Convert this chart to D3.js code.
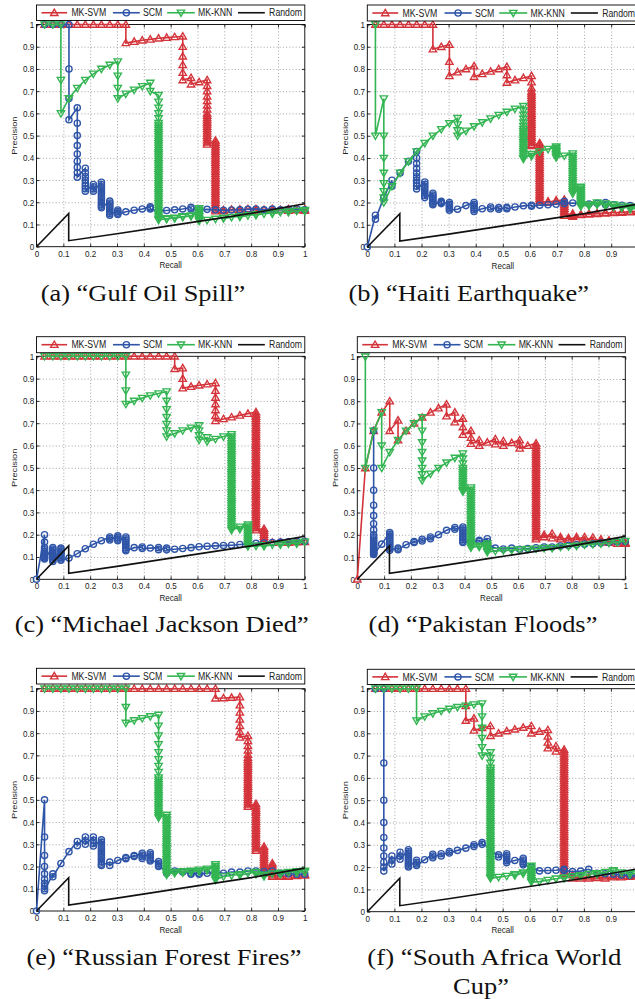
<!DOCTYPE html>
<html><head><meta charset="utf-8">
<script src="https://cdn.jsdelivr.net/npm/d3@7"></script>
<style>body{margin:0;background:#fff}svg{display:block}</style>
</head><body>
<svg id="c" width="635" height="999"></svg>
<script>
// ---------------- DATA ----------------
const seriesNames = ["MK-SVM", "SCM", "MK-KNN", "Random"];
const tickValues = [0, 0.1, 0.2, 0.3, 0.4, 0.5, 0.6, 0.7, 0.8, 0.9, 1];
const tickLabels = ["0", "0.1", "0.2", "0.3", "0.4", "0.5", "0.6", "0.7", "0.8", "0.9", "1"];
const axisLabels = ["Recall", "Precision"];
const captions = [
  ["(a) “Gulf Oil Spill”"],
  ["(b) “Haiti Earthquake”"],
  ["(c) “Michael Jackson Died”"],
  ["(d) “Pakistan Floods”"],
  ["(e) “Russian Forest Fires”"],
  ["(f) “South Africa World", "Cup”"]
];
// each group: [recall, precision1, precision2, ...] (points in curve order)
const randomLine = [[0,0],[0.12,0.15],[0.12,0.027],[0.3,0.058],[0.5,0.095],[0.8,0.15],[1,0.193]];

const svmA = [[0.03,1],[0.061,1],[0.091,1],[0.121,1],[0.152,1],[0.182,1],[0.212,1],[0.242,1],[0.273,1],[0.303,1],
 [0.333,1,0.917],[0.364,0.923],[0.394,0.929],[0.424,0.933],[0.455,0.938],[0.485,0.941],[0.515,0.944],
 [0.545,0.947,0.9,0.857,0.818,0.783,0.75],[0.576,0.76,0.731],[0.606,0.741],
 [0.636,0.75,0.724,0.7,0.677,0.656,0.636,0.618,0.6,0.59,0.58,0.57,0.56,0.55,0.54,0.53,0.52,0.51,0.5,0.49,0.48,0.47,0.46],
 [0.667,0.478,0.468,0.458,0.448,0.438,0.428,0.418,0.408,0.398,0.388,0.378,0.368,0.358,0.348,0.338,0.328,0.318,0.308,0.298,0.288,0.278,0.268,0.258,0.248,0.238,0.228,0.218,0.208,0.198,0.188,0.178,0.168,0.16],
 [0.697,0.165,0.16],[0.727,0.167],[0.758,0.168,0.162],[0.788,0.17],[0.818,0.17,0.163],[0.848,0.166],[0.879,0.17,0.163],[0.909,0.166],[0.939,0.17,0.162],[0.97,0.165],[1,0.168,0.162]];
const scmA = [[0.03,1],[0.061,1],[0.091,1],[0.121,1,0.8,0.667,0.571],
 [0.152,0.625,0.556,0.5,0.455,0.417,0.385,0.357,0.333,0.313],
 [0.182,0.353,0.333,0.316,0.3,0.286,0.273,0.261,0.25],
 [0.212,0.28,0.27,0.26,0.25],
 [0.242,0.29,0.28,0.27,0.26,0.25,0.24,0.23,0.22,0.21,0.2,0.19,0.182,0.175],
 [0.273,0.205,0.197,0.189,0.181,0.173,0.165,0.157,0.149,0.142],[0.303,0.165,0.158,0.151,0.145],
 [0.333,0.157],[0.364,0.164],[0.394,0.17],[0.424,0.18,0.175,0.17],[0.455,0.16],[0.485,0.163],[0.515,0.166],[0.545,0.17],[0.576,0.177,0.17],[0.606,0.165],[0.636,0.168],[0.667,0.166],[0.697,0.164],[0.727,0.165],[0.758,0.166],[0.788,0.168],[0.818,0.17],[0.848,0.166],[0.879,0.169],[0.909,0.166],[0.939,0.168],[0.97,0.17],[1,0.166]];
const knnA = [[0.03,1],[0.061,1],[0.091,1,0.75,0.6],[0.121,0.667],[0.152,0.714],[0.182,0.75],[0.212,0.778],[0.242,0.8],[0.273,0.818],
 [0.303,0.833,0.769,0.714,0.667],[0.333,0.688],[0.364,0.706],[0.394,0.722],[0.424,0.737,0.7],
 [0.455,0.682,0.652,0.625,0.6,0.577,0.556,0.545,0.535,0.525,0.515,0.505,0.495,0.485,0.475,0.465,0.455,0.445,0.435,0.425,0.415,0.405,0.395,0.385,0.375,0.365,0.355,0.345,0.335,0.325,0.315,0.305,0.295,0.285,0.275,0.265,0.255,0.245,0.235,0.225,0.215,0.205,0.195,0.185,0.175,0.165,0.155,0.145,0.135,0.125,0.12],
 [0.485,0.127,0.124],[0.515,0.13,0.127],[0.545,0.136,0.133],[0.576,0.14,0.137],[0.606,0.172,0.165,0.158,0.151,0.144,0.137,0.13,0.123,0.116],[0.636,0.12],[0.667,0.125],[0.697,0.13,0.127],[0.727,0.133],[0.758,0.137,0.134],[0.788,0.141],[0.818,0.145,0.142],[0.848,0.148],[0.879,0.152,0.149],[0.909,0.155],[0.939,0.158,0.155],[0.97,0.161],[1,0.165,0.16]];

const svmB = [[0.03,1],[0.061,1],[0.091,1],[0.121,1],[0.152,1],[0.182,1],[0.212,1],[0.242,1,0.889],[0.273,0.9],[0.303,0.909,0.833,0.769],[0.333,0.786],[0.364,0.8],[0.394,0.813,0.765],[0.424,0.778],[0.455,0.789],[0.485,0.8],[0.515,0.81,0.773,0.739],[0.545,0.75],[0.576,0.76],
 [0.606,0.769,0.741,0.714,0.7,0.69,0.68,0.67,0.66,0.65,0.64,0.63,0.62,0.61,0.6,0.59,0.58,0.57,0.56,0.55,0.54,0.53,0.52,0.51,0.5,0.49,0.48,0.47,0.46,0.455],
 [0.636,0.467,0.457,0.447,0.437,0.427,0.417,0.407,0.397,0.387,0.377,0.367,0.357,0.347,0.337,0.327,0.317,0.307,0.297,0.287,0.277,0.267,0.257,0.247,0.237,0.227,0.217,0.207,0.2],
 [0.667,0.205,0.2],[0.697,0.21,0.205],[0.727,0.213,0.205,0.197,0.189,0.181,0.173,0.165,0.157,0.149,0.141],[0.758,0.15,0.145,0.14,0.137],[0.788,0.147,0.144],[0.818,0.15,0.147],[0.848,0.152,0.149],[0.879,0.154,0.151],[0.909,0.156,0.153],[0.939,0.158,0.155],[0.97,0.16,0.157],[1,0.162,0.159]];
const scmB = [[0,0],[0.03,0.143,0.125],[0.061,0.222],[0.091,0.3,0.273],[0.121,0.333],[0.152,0.385],
 [0.182,0.429,0.4,0.375,0.353,0.333,0.316,0.3,0.286,0.273,0.261],
 [0.212,0.292,0.282,0.272,0.262,0.252,0.242,0.232,0.222],
 [0.242,0.242,0.234,0.226,0.218,0.21,0.202,0.195,0.19],
 [0.273,0.205,0.2,0.195],[0.303,0.2,0.193,0.186,0.179,0.172,0.165],
 [0.333,0.17],[0.364,0.186],[0.394,0.2,0.192,0.184,0.176,0.168,0.16],[0.424,0.172],[0.455,0.18,0.172],[0.485,0.177,0.17],[0.515,0.178,0.172],[0.545,0.18],[0.576,0.185],[0.606,0.188,0.183],[0.636,0.188],[0.667,0.19],[0.697,0.192],[0.727,0.205,0.195],[0.758,0.198],[0.788,0.195],[0.818,0.193],[0.848,0.197],[0.879,0.2,0.19],[0.909,0.19],[0.939,0.188],[0.97,0.186],[1,0.185]];
const knnB = [[0.03,1,0.5],[0.061,0.667,0.5,0.4,0.333,0.286,0.25,0.222,0.2],[0.091,0.273],[0.121,0.333],[0.152,0.385],[0.182,0.429],[0.212,0.467],[0.242,0.5],[0.273,0.529],[0.303,0.556],[0.333,0.579,0.55,0.524,0.5],[0.364,0.522],[0.394,0.542],[0.424,0.56],[0.455,0.577],[0.485,0.593],[0.515,0.607],[0.545,0.621],
 [0.576,0.633,0.613,0.594,0.576,0.559,0.543,0.53,0.52,0.51,0.5,0.49,0.48,0.47,0.46,0.45,0.44,0.43,0.42,0.41,0.4,0.396],
 [0.606,0.417,0.408],[0.636,0.429],[0.667,0.44],[0.697,0.451,0.444,0.437,0.43,0.423,0.416,0.409,0.402],[0.727,0.41],
 [0.758,0.42,0.41,0.4,0.39,0.38,0.37,0.36,0.35,0.34,0.33,0.32,0.31,0.3,0.29,0.28,0.27,0.26,0.25,0.24],
 [0.788,0.27,0.262,0.254,0.246,0.238,0.23,0.222,0.214,0.206,0.198,0.19,0.182],[0.818,0.19,0.185],[0.848,0.2,0.19],[0.879,0.195,0.185],[0.909,0.19,0.18],[0.939,0.185,0.175],[0.97,0.18,0.17],[1,0.175,0.165]];

const svmC = [[0.03,1],[0.061,1],[0.091,1],[0.121,1],[0.152,1],[0.182,1],[0.212,1],[0.242,1],[0.273,1],[0.303,1],[0.333,1],[0.364,1],[0.394,1],[0.424,1],[0.455,1],[0.485,1],
 [0.515,1,0.944],[0.545,0.947,0.9,0.857],[0.576,0.864],[0.606,0.87],[0.636,0.875],[0.667,0.88,0.846,0.815,0.786,0.759,0.733,0.71],[0.697,0.719],[0.727,0.727],[0.758,0.735],[0.788,0.743],
 [0.818,0.75,0.74,0.73,0.72,0.71,0.7,0.69,0.68,0.67,0.66,0.65,0.64,0.63,0.62,0.61,0.6,0.59,0.58,0.57,0.56,0.55,0.54,0.53,0.52,0.51,0.5,0.49,0.48,0.47,0.46,0.45,0.44,0.43,0.42,0.41,0.4,0.39,0.38,0.37,0.36,0.35,0.34,0.33,0.32,0.31,0.3,0.29,0.28,0.27,0.26,0.25,0.24,0.23,0.22],
 [0.848,0.227,0.218,0.209,0.2,0.191,0.182,0.173,0.165],[0.879,0.165],[0.909,0.166],[0.939,0.165],[0.97,0.167],[1,0.168]];
const scmC = [[0,0],[0.03,0.2,0.167,0.143,0.133,0.125,0.118,0.111,0.105,0.1,0.095,0.091],[0.061,0.143,0.136,0.129,0.122,0.115,0.108,0.101,0.094,0.087,0.08],[0.091,0.14,0.133,0.126,0.119,0.112,0.105,0.098,0.091,0.085],
 [0.121,0.095],[0.152,0.115],[0.182,0.137],[0.212,0.157],[0.242,0.173],[0.273,0.19,0.183,0.176],[0.303,0.195,0.187,0.18,0.173],
 [0.333,0.19,0.182,0.174,0.166,0.158,0.15,0.142,0.134,0.128],[0.364,0.142],[0.394,0.145,0.138],[0.424,0.14],[0.455,0.142,0.133],[0.485,0.14,0.132],[0.515,0.135],[0.545,0.138],[0.576,0.142],[0.606,0.146],[0.636,0.148],[0.667,0.15],[0.697,0.152],[0.727,0.153],[0.758,0.156],[0.788,0.158],[0.818,0.161],[0.848,0.163],[0.879,0.165],[0.909,0.167],[0.939,0.168],[0.97,0.17],[1,0.17]];
const knnC = [[0.03,1],[0.061,1],[0.091,1],[0.121,1],[0.152,1],[0.182,1],[0.212,1],[0.242,1],[0.273,1],[0.303,1],[0.333,1,0.917,0.846,0.786],[0.364,0.8],[0.394,0.813],[0.424,0.824],[0.455,0.833],
 [0.485,0.842,0.8,0.762,0.727,0.696,0.667,0.64],[0.515,0.654],[0.545,0.667],[0.576,0.679],[0.606,0.69,0.667,0.645,0.625],[0.636,0.636,0.618],[0.667,0.629],[0.697,0.64],
 [0.727,0.65,0.64,0.63,0.62,0.61,0.6,0.59,0.58,0.57,0.56,0.55,0.54,0.53,0.52,0.51,0.5,0.49,0.48,0.47,0.46,0.45,0.44,0.43,0.42,0.41,0.4,0.39,0.38,0.37,0.36,0.35,0.34,0.33,0.32,0.31,0.3,0.29,0.28,0.27,0.26,0.25,0.24,0.23,0.22],
 [0.758,0.235,0.225],[0.788,0.245,0.236,0.227,0.218,0.209,0.2,0.191,0.182,0.173,0.164,0.155,0.147],[0.818,0.15],[0.848,0.152,0.148],[0.879,0.155],[0.909,0.158,0.155],[0.939,0.16],[0.97,0.163,0.16],[1,0.168]];

const svmD = [[0,0],[0.03,0.5],[0.061,0.667],[0.091,0.75],[0.121,0.8,0.667],[0.152,0.714,0.625],[0.182,0.667],[0.212,0.7],[0.242,0.727],[0.273,0.75],[0.303,0.769],[0.333,0.786,0.733],[0.364,0.75,0.706],[0.394,0.722,0.684,0.65],[0.424,0.667,0.636,0.609],[0.455,0.625,0.6],[0.485,0.615],[0.515,0.63,0.607],[0.545,0.621,0.6],[0.576,0.613],[0.606,0.625,0.606,0.588],[0.636,0.6],
 [0.667,0.611,0.6,0.59,0.58,0.57,0.56,0.55,0.54,0.53,0.52,0.51,0.5,0.49,0.48,0.47,0.46,0.45,0.44,0.43,0.42,0.41,0.4,0.39,0.38,0.37,0.36,0.35,0.34,0.33,0.32,0.31,0.3,0.29,0.28,0.27,0.26,0.25,0.24,0.23,0.22,0.21,0.2,0.19,0.18],
 [0.697,0.2,0.19],[0.727,0.205,0.185],[0.758,0.19,0.18],[0.788,0.185,0.178],[0.818,0.19,0.18],[0.848,0.19,0.175],[0.879,0.188,0.172],[0.909,0.18,0.17],[0.939,0.175,0.165],[0.97,0.17,0.16],[1,0.165,0.16]];
const scmD = [[0.061,0.667,0.5,0.4,0.333,0.286,0.25,0.222,0.2,0.19,0.182,0.174,0.167,0.16,0.154,0.148,0.143,0.138,0.133,0.129,0.125,0.121,0.118,0.114,0.111],[0.091,0.158],[0.121,0.21,0.202,0.194,0.186,0.178,0.17,0.162,0.154,0.146,0.138,0.13],[0.152,0.14,0.133],[0.182,0.155],[0.212,0.17,0.165],[0.242,0.18,0.172],[0.273,0.19,0.182],[0.303,0.2],[0.333,0.22],[0.364,0.233,0.225],
 [0.394,0.235,0.227,0.219,0.211,0.203,0.195,0.187,0.179,0.171,0.165],[0.424,0.17],[0.455,0.175,0.17],[0.485,0.182,0.17,0.16],[0.515,0.14],[0.545,0.136],[0.576,0.14],[0.606,0.135],[0.636,0.138],[0.667,0.142],[0.697,0.145],[0.727,0.145],[0.758,0.15],[0.788,0.152],[0.818,0.155],[0.848,0.158],[0.879,0.16],[0.909,0.163],[0.939,0.165],[0.97,0.168],[1,0.17]];
const knnD = [[0.03,1,0.5],[0.061,0.667],[0.091,0.75,0.6,0.5],[0.121,0.571],[0.152,0.625],[0.182,0.667],[0.212,0.7],[0.242,0.727,0.667,0.615,0.571,0.533,0.5,0.471,0.444],[0.273,0.474],[0.303,0.5],[0.333,0.524],[0.364,0.545],
 [0.394,0.565,0.542,0.52,0.5,0.49,0.48,0.47,0.46,0.45,0.44,0.43,0.42,0.41,0.4,0.394],
 [0.424,0.412,0.402,0.392,0.382,0.372,0.362,0.352,0.342,0.332,0.322,0.312,0.302,0.292,0.282,0.272,0.262,0.252,0.242,0.232,0.222,0.212,0.202,0.192,0.182,0.172,0.162,0.152,0.142],
 [0.455,0.15,0.145],[0.485,0.16,0.152,0.144,0.136,0.128,0.122],[0.515,0.127],[0.545,0.13],[0.576,0.131],[0.606,0.133],[0.636,0.135],[0.667,0.137],[0.697,0.14],[0.727,0.14],[0.758,0.145],[0.788,0.148],[0.818,0.15],[0.848,0.155],[0.879,0.158],[0.909,0.16],[0.939,0.163],[0.97,0.167],[1,0.172]];

const svmE = [[0.03,1],[0.061,1],[0.091,1],[0.121,1],[0.152,1],[0.182,1],[0.212,1],[0.242,1],[0.273,1],[0.303,1],[0.333,1],[0.364,1],[0.394,1],[0.424,1],[0.455,1],[0.485,1],[0.515,1],[0.545,1],[0.576,1],[0.606,1],[0.636,1],
 [0.667,1,0.957],[0.697,0.958],[0.727,0.96],[0.758,0.962,0.926,0.893,0.862,0.833,0.806,0.781],
 [0.788,0.788,0.765,0.743,0.722,0.703,0.69,0.68,0.67,0.66,0.65,0.64,0.63,0.62,0.61,0.6,0.59,0.58,0.57,0.56,0.55,0.54,0.53,0.52,0.51,0.5,0.49,0.48,0.47],
 [0.818,0.482,0.472,0.462,0.452,0.442,0.432,0.422,0.412,0.402,0.392,0.382,0.372,0.362,0.352,0.342,0.332,0.322,0.312,0.302,0.292,0.282,0.272],
 [0.848,0.29,0.28,0.27,0.26,0.25,0.24,0.23,0.22,0.21,0.2,0.19,0.18,0.17],[0.879,0.215,0.206,0.197,0.188,0.179,0.17,0.161,0.155],[0.909,0.16,0.155],[0.939,0.16,0.155],[0.97,0.163,0.158],[1,0.165,0.16]];
const scmE = [[0,0],[0.03,0.5,0.333,0.25,0.2,0.167,0.143,0.125,0.111,0.1,0.091],[0.061,0.167,0.154],[0.091,0.214],[0.121,0.267],[0.152,0.313,0.294],[0.182,0.333,0.316,0.3],[0.212,0.333,0.318,0.304,0.292],
 [0.242,0.32,0.31,0.3,0.29,0.28,0.27,0.26,0.25,0.24,0.23,0.22,0.21,0.205],[0.273,0.22,0.205],[0.303,0.227],[0.333,0.24,0.235],[0.364,0.25,0.245],[0.394,0.26,0.252,0.244,0.236],[0.424,0.262,0.254,0.246,0.238,0.23,0.225],[0.455,0.222,0.214,0.206,0.2],[0.485,0.18,0.17],[0.515,0.18],[0.545,0.175],[0.576,0.17,0.165],[0.606,0.17,0.165],[0.636,0.17],[0.667,0.175],[0.697,0.17],[0.727,0.175],[0.758,0.175],[0.788,0.18],[0.818,0.18],[0.848,0.178],[0.879,0.18],[0.909,0.17],[0.939,0.168],[0.97,0.165],[1,0.165]];
const knnE = [[0.03,1],[0.061,1],[0.091,1],[0.121,1],[0.152,1],[0.182,1],[0.212,1],[0.242,1],[0.273,1],[0.303,1],[0.333,1,0.917,0.846],[0.364,0.857],[0.394,0.867],[0.424,0.875],
 [0.455,0.882,0.833,0.789,0.75,0.714,0.682,0.652,0.625,0.6,0.59,0.58,0.57,0.56,0.55,0.54,0.53,0.52,0.51,0.5,0.49,0.48,0.47,0.46,0.45,0.44,0.43,0.42],
 [0.485,0.432,0.422,0.412,0.402,0.392,0.382,0.372,0.362,0.352,0.342,0.332,0.322,0.312,0.302,0.292,0.282,0.272,0.262,0.252,0.242,0.232,0.222,0.212,0.202,0.192,0.182,0.172,0.162],
 [0.515,0.175,0.17],[0.545,0.178,0.172],[0.576,0.18,0.175],[0.606,0.185,0.178],[0.636,0.19,0.183],[0.667,0.21,0.202,0.194,0.186,0.178,0.17,0.162,0.154,0.146,0.14],[0.697,0.155],[0.727,0.16],[0.758,0.165,0.16],[0.788,0.17],[0.818,0.175,0.165],[0.848,0.162,0.155],[0.879,0.168],[0.909,0.172,0.166],[0.939,0.175],[0.97,0.178,0.172],[1,0.18,0.175]];

const svmF = [[0.03,1],[0.061,1],[0.091,1],[0.121,1],[0.152,1],[0.182,1],[0.212,1],[0.242,1],[0.273,1],[0.303,1],[0.333,1],[0.364,1,0.923,0.857],[0.394,0.867,0.813],[0.424,0.824],[0.455,0.833,0.789],[0.485,0.8],[0.515,0.81],[0.545,0.818],[0.576,0.826],[0.606,0.833,0.8],[0.636,0.808],[0.667,0.815,0.786,0.759,0.733],[0.697,0.742,0.719],
 [0.727,0.727,0.717,0.707,0.697,0.687,0.677,0.667,0.657,0.647,0.637,0.627,0.617,0.607,0.597,0.587,0.577,0.567,0.557,0.547,0.537,0.527,0.517,0.507,0.497,0.487,0.477,0.467,0.457,0.447,0.437,0.427,0.417,0.407,0.397,0.387,0.377,0.367,0.357,0.347,0.337,0.327,0.317,0.307,0.297,0.287,0.277,0.267,0.257,0.247,0.237,0.227,0.217,0.207,0.197,0.187,0.177,0.17],
 [0.758,0.165,0.15],[0.788,0.158,0.15],[0.818,0.158,0.15],[0.848,0.16,0.152],[0.879,0.158,0.15],[0.909,0.16,0.155],[0.939,0.16,0.155],[0.97,0.162,0.157],[1,0.165,0.16]];
const scmF = [[0.03,1],[0.061,1,0.667,0.5,0.4,0.333,0.286,0.25,0.222,0.2,0.182],[0.091,0.25,0.231,0.214],[0.121,0.267,0.25,0.235],[0.152,0.278,0.27,0.262,0.254,0.246,0.238,0.23,0.222,0.214,0.206,0.2],[0.182,0.231,0.222,0.214,0.207],[0.212,0.233],[0.242,0.258,0.25,0.242],[0.273,0.26,0.25],[0.303,0.27,0.263],[0.333,0.275],[0.364,0.285],[0.394,0.3,0.292],[0.424,0.31,0.302],[0.455,0.29,0.27],[0.485,0.255,0.245],[0.515,0.26,0.252,0.244,0.236,0.228,0.22],[0.545,0.23],[0.576,0.24,0.232,0.224,0.216,0.21],[0.606,0.2],[0.636,0.183],[0.667,0.185],[0.697,0.186],[0.727,0.19,0.185],[0.758,0.18],[0.788,0.182],[0.818,0.19],[0.848,0.172],[0.879,0.17],[0.909,0.168],[0.939,0.165],[0.97,0.163],[1,0.162]];
const knnF = [[0.03,1],[0.061,1],[0.091,1],[0.121,1],[0.152,1],[0.182,1,0.857],[0.212,0.875],[0.242,0.889],[0.273,0.9],[0.303,0.909],[0.333,0.917],[0.364,0.923],[0.394,0.929],[0.424,0.933,0.875,0.824,0.778,0.737,0.7],
 [0.455,0.714,0.69,0.667,0.645,0.635,0.625,0.615,0.605,0.595,0.585,0.575,0.565,0.555,0.545,0.535,0.525,0.515,0.505,0.495,0.485,0.475,0.465,0.455,0.445,0.435,0.425,0.415,0.405,0.395,0.385,0.375,0.365,0.355,0.345,0.335,0.325,0.315,0.305,0.295,0.285,0.275,0.265,0.255,0.245,0.235,0.225,0.215,0.205,0.195,0.185,0.175,0.165,0.155,0.15],
 [0.485,0.155],[0.515,0.16],[0.545,0.167,0.162],[0.576,0.175,0.17],[0.606,0.205,0.197,0.189,0.181,0.173,0.165,0.157,0.149,0.141,0.133],[0.636,0.135],[0.667,0.142],[0.697,0.148],[0.727,0.153,0.15],[0.758,0.158],[0.788,0.163,0.16],[0.818,0.168],[0.848,0.172,0.168],[0.879,0.178],[0.909,0.185,0.18],[0.939,0.175],[0.97,0.172,0.168],[1,0.175]];

const panelData = [
  [svmA, scmA, knnA], [svmB, scmB, knnB], [svmC, scmC, knnC],
  [svmD, scmD, knnD], [svmE, scmE, knnE], [svmF, scmF, knnF]
];

// ---------------- LAYOUT / STYLE ----------------
// cap: c = centre x, y = baseline, w = forced width (justified line) if given
const layout = [
  {x0:36.5, x1:304.8, yt:24.5, yb:246.7, lt:5,     lb:20.5, cap:[{c:143,y:301}]},
  {x0:367.3,x1:638.3, yt:24.5, yb:247,   lt:5,     lb:21,   cap:[{c:468.8,y:301}]},
  {x0:36.5, x1:304.8, yt:356.3,yb:579.3, lt:336.7, lb:352.7,cap:[{c:161.7,y:632}]},
  {x0:357.3,x1:625.3, yt:356.7,yb:579.3, lt:336.7, lb:352.7,cap:[{c:483,y:632}]},
  {x0:36.5, x1:304.8, yt:688.7,yb:911,   lt:668.3, lb:684,  cap:[{c:163.9,y:965}]},
  {x0:367.3,x1:638,   yt:688.7,yb:911.7, lt:669.3, lb:684.5,cap:[{c:494.3,y:965,w:254},{c:481,y:994}]}
];
const legendPos = [[0.0186,0.114,0.130],[0.285,0.385,0.397],[0.487,0.59,0.602],[0.751,0.851,0.867]];
const colors = ["#d4333a", "#2f55a8", "#33b552", "#111111"];
const triUp = "M0,-3.7L3.7,2.7L-3.7,2.7Z";
const triDown = "M0,3.7L3.7,-2.7L-3.7,-2.7Z";
const circ = d3.symbol().type(d3.symbolCircle).size(Math.PI * 3.1 * 3.1)();
const markers = [triUp, circ, triDown, null];
const sx = 0.87;          // small MATLAB text is horizontally condensed in the original
const capStretch = 1.1;   // Computer-Modern-like width from Liberation Serif
const sans = "Liberation Sans, Arial, sans-serif";

const svg = d3.select("#c");
function flatten(groups) {
  const pts = [];
  groups.forEach(g => { for (let i = 1; i < g.length; i++) pts.push([g[0], g[i]]); });
  return pts;
}

layout.forEach((L, pi) => {
  const x = d3.scaleLinear().domain([0, 1]).range([L.x0, L.x1]);
  const y = d3.scaleLinear().domain([0, 1]).range([L.yb, L.yt]);
  const g = svg.append("g");
  const H = L.yb - L.yt, W = L.x1 - L.x0;
  const inner = tickValues.slice(1, -1);

  // grid
  const gridStyle = s => { s.select(".domain").remove();
    s.selectAll("line").attr("stroke", "#8c8c8c").attr("stroke-width", 0.8).attr("stroke-dasharray", "1,2.2"); };
  g.append("g").attr("transform", `translate(0,${L.yb})`)
    .call(d3.axisBottom(x).tickValues(inner).tickSize(-H).tickFormat("")).call(gridStyle);
  g.append("g").attr("transform", `translate(${L.x0},0)`)
    .call(d3.axisLeft(y).tickValues(inner).tickSize(-W).tickFormat("")).call(gridStyle);

  // axes
  const fmt = (d, i) => tickLabels[i];
  const tickStyle = s => { s.select(".domain").remove();
    s.selectAll(".tick line").attr("stroke", "#000").attr("stroke-width", 0.8); };
  const bx = g.append("g").attr("transform", `translate(0,${L.yb})`)
    .call(d3.axisBottom(x).tickValues(tickValues).tickFormat(fmt).tickSizeInner(-3).tickSizeOuter(0).tickPadding(3.3)).call(tickStyle);
  const lx = g.append("g").attr("transform", `translate(${L.x0},0)`)
    .call(d3.axisLeft(y).tickValues(tickValues).tickFormat(fmt).tickSizeInner(-3).tickSizeOuter(0).tickPadding(2.3)).call(tickStyle);
  g.append("g").attr("transform", `translate(0,${L.yt})`)
    .call(d3.axisTop(x).tickValues(tickValues).tickFormat("").tickSizeInner(-3).tickSizeOuter(0)).call(tickStyle);
  g.append("g").attr("transform", `translate(${L.x1},0)`)
    .call(d3.axisRight(y).tickValues(tickValues).tickFormat("").tickSizeInner(-3).tickSizeOuter(0)).call(tickStyle);
  [bx, lx].forEach(a => a.selectAll("text")
    .attr("font-family", sans).attr("font-size", 9.3).attr("fill", "#222")
    .attr("transform", `scale(${sx},1)`));
  lx.selectAll("text").attr("x", -2.3 / sx);
  // labels falling past the page edge are cut in the original too
  bx.selectAll(".tick").filter(d => x(d) > 630).select("text").remove();

  g.append("rect").attr("x", L.x0).attr("y", L.yt).attr("width", W).attr("height", H)
    .attr("fill", "none").attr("stroke", "#000").attr("stroke-width", 0.9);

  // axis labels
  g.append("text").attr("transform", `translate(${(L.x0 + L.x1) / 2},${L.yb + 21.6}) scale(${sx},1)`)
    .attr("text-anchor", "middle").attr("font-family", sans)
    .attr("font-size", 9.3).attr("fill", "#222").text(axisLabels[0]);
  g.append("text").attr("transform", `translate(${L.x0 - 19.4},${(L.yt + L.yb) / 2}) rotate(-90) scale(1,${sx})`)
    .attr("text-anchor", "middle").attr("font-family", sans)
    .attr("font-size", 9.3).attr("fill", "#222").text(axisLabels[1]);

  // series (drawn in legend order; Random last)
  const line = d3.line().x(d => x(d[0])).y(d => y(d[1]));
  const all = panelData[pi].concat([null]);
  all.forEach((groups, si) => {
    const pts = si === 3 ? randomLine : flatten(groups);
    g.append("path").attr("d", line(pts)).attr("fill", "none")
      .attr("stroke", colors[si]).attr("stroke-width", 1.6).attr("stroke-linejoin", "miter");
    if (markers[si]) {
      g.append("g").selectAll("path").data(pts).join("path")
        .attr("d", markers[si]).attr("transform", d => `translate(${x(d[0])},${y(d[1])})`)
        .attr("fill", "none").attr("stroke", colors[si]).attr("stroke-width", 1.35);
    }
  });

  // legend
  const lg = g.append("g");
  lg.append("rect").attr("x", L.x0).attr("y", L.lt).attr("width", W).attr("height", L.lb - L.lt)
    .attr("fill", "#fff").attr("stroke", "#000").attr("stroke-width", 0.9);
  const cy = (L.lt + L.lb) / 2;
  legendPos.forEach((p, si) => {
    const a = L.x0 + p[0] * W, b = L.x0 + p[1] * W;
    lg.append("line").attr("x1", a).attr("x2", b).attr("y1", cy).attr("y2", cy)
      .attr("stroke", colors[si]).attr("stroke-width", 1.6);
    if (markers[si]) lg.append("path").attr("d", markers[si]).attr("transform", `translate(${(a + b) / 2},${cy})`)
      .attr("fill", "none").attr("stroke", colors[si]).attr("stroke-width", 1.35);
    lg.append("text").attr("transform", `translate(${L.x0 + p[2] * W},${cy + 3.6}) scale(${sx},1)`)
      .attr("font-family", sans).attr("font-size", 10).attr("fill", "#222")
      .text(seriesNames[si]);
  });

  // caption
  L.cap.forEach((c, li) => {
    const t = svg.append("text").attr("y", c.y)
      .attr("font-family", "Liberation Serif, Times New Roman, serif").attr("font-size", 24).attr("fill", "#111")
      .text(captions[pi][li]);
    const nat = t.node().getComputedTextLength();
    const w = c.w || nat * capStretch;
    t.attr("x", c.c - w / 2).attr("textLength", w).attr("lengthAdjust", "spacingAndGlyphs");
  });
});
</script>
</body></html>
